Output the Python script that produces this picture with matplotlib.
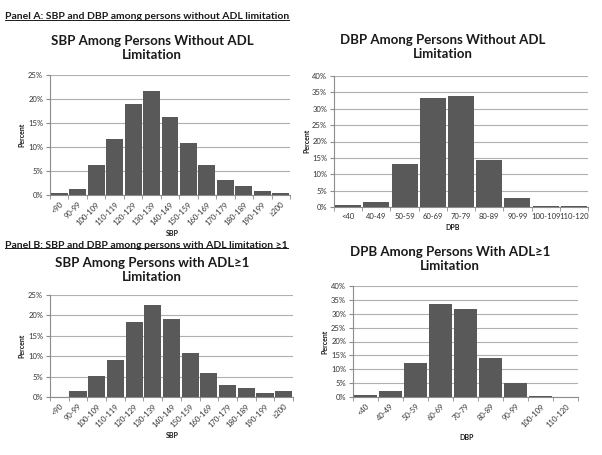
import numpy as np
import matplotlib
matplotlib.use('Agg')
import matplotlib.pyplot as plt
from matplotlib.ticker import PercentFormatter
from matplotlib.lines import Line2D

plt.rcParams['font.family'] = ['Lato', 'DejaVu Sans']

# SBP / DBP bins
sbp_bins = ['<90', '90-99', '100-109', '110-119', '120-129', '130-139', '140-149',
            '150-159', '160-169', '170-179', '180-189', '190-199', '≥200']
dbp_bins = ['<40', '40-49', '50-59', '60-69', '70-79', '80-89', '90-99',
            '100-109', '110-120']

# Percent values
sbp_no_adl = [0.35, 1.3, 6.2, 11.6, 19.0, 21.6, 16.3, 10.8, 6.3, 3.2, 1.9, 0.9, 0.45]
dbp_no_adl = [0.5, 1.4, 13.1, 33.2, 33.9, 14.4, 2.9, 0.4, 0.2]
sbp_adl = [0.0, 1.4, 5.1, 9.0, 18.3, 22.5, 19.0, 10.9, 5.9, 3.0, 2.1, 1.0, 1.4]
dbp_adl = [0.6, 2.1, 12.3, 33.4, 31.8, 14.0, 5.2, 0.4, 0.0]

W, H = 602, 455
fig = plt.figure(figsize=(W / 100, H / 100), dpi=100)
fig.patch.set_facecolor('white')

BAR = '#595959'
GRID = '#b0b0b0'
AXC = '#8c8c8c'


def px_rect(l, t, r, b):
    return [l / W, 1 - b / H, (r - l) / W, (b - t) / H]


def draw(rect, labels, values, ymax, rotate):
    ax = fig.add_axes(px_rect(*rect))
    x = np.arange(len(labels))
    ax.bar(x, values, width=0.92, color=BAR, zorder=3)
    ax.set_xlim(-0.5, len(labels) - 0.5)
    ax.set_ylim(0, ymax)
    ax.set_yticks(np.arange(0, ymax + 0.1, 5))
    ax.yaxis.set_major_formatter(PercentFormatter(decimals=0))
    ax.yaxis.grid(True, color=GRID, linewidth=0.8, zorder=0)
    for s in ['top', 'right']:
        ax.spines[s].set_visible(False)
    for s in ['left', 'bottom']:
        ax.spines[s].set_color(AXC)
        ax.spines[s].set_linewidth(0.8)
    ax.set_xticks(x)
    ax.set_xticklabels(labels, rotation=45 if rotate else 0,
                       ha='right' if rotate else 'center',
                       rotation_mode='anchor' if rotate else 'default',
                       fontsize=5.5, color='#333333')
    ax.set_xticks(np.arange(len(labels) + 1) - 0.5, minor=True)
    ax.tick_params(axis='x', which='major', length=0, pad=4)
    ax.tick_params(axis='x', which='minor', length=3, color=AXC)
    ax.tick_params(axis='y', length=3, color=AXC, labelsize=5.5, labelcolor='#333333', pad=2)
    return ax


draw((50, 75, 290, 195), sbp_bins, sbp_no_adl, 25, True)
draw((334, 76, 588, 207), dbp_bins, dbp_no_adl, 40, False)
draw((50, 295, 293, 397), sbp_bins, sbp_adl, 25, True)
draw((353, 286, 578, 397), dbp_bins, dbp_adl, 40, True)


def ftext(x, y, s, **kw):
    return fig.text(x / W, 1 - y / H, s, **kw)


# chart titles
tkw = dict(fontsize=9.5, fontweight='bold', ha='center', va='center', color='#1a1a1a',
           linespacing=1.25)
ftext(152, 48, 'SBP Among Persons Without ADL\nLimitation', **tkw)
ftext(443, 47, 'DBP Among Persons Without ADL\nLimitation', **tkw)
ftext(152, 270, 'SBP Among Persons with ADL≥1\nLimitation', **tkw)
ftext(450, 259, 'DPB Among Persons With ADL≥1\nLimitation', **tkw)

# axis labels
lkw = dict(fontsize=5, fontweight='bold', color='#1a1a1a', ha='center', va='center')
ftext(22, 135, 'Percent', rotation=90, **lkw)
ftext(307, 141, 'Percent', rotation=90, **lkw)
ftext(22, 346, 'Percent', rotation=90, **lkw)
ftext(325, 342, 'Percent', rotation=90, **lkw)
ftext(172, 234, 'SBP', **lkw)
ftext(453, 228, 'DPB', **lkw)
ftext(172, 435, 'SBP', **lkw)
ftext(467, 437, 'DBP', **lkw)

# panel headings (underlined)
pkw = dict(fontsize=7.5, fontweight='bold', color='#1a1a1a', ha='left', va='baseline')
heads = [ftext(5, 19, 'Panel A: SBP and DBP among persons without ADL limitation', **pkw),
         ftext(5, 248, 'Panel B: SBP and DBP among persons with ADL limitation ≥1', **pkw)]
fig.canvas.draw()
r = fig.canvas.get_renderer()
for t in heads:
    bb = t.get_window_extent(r)
    yb = bb.y0 + 1.5
    fig.add_artist(Line2D([bb.x0 / W, bb.x1 / W], [yb / H, yb / H],
                          transform=fig.transFigure, color='#1a1a1a', linewidth=0.7))

fig.savefig('out.png', dpi=100)
